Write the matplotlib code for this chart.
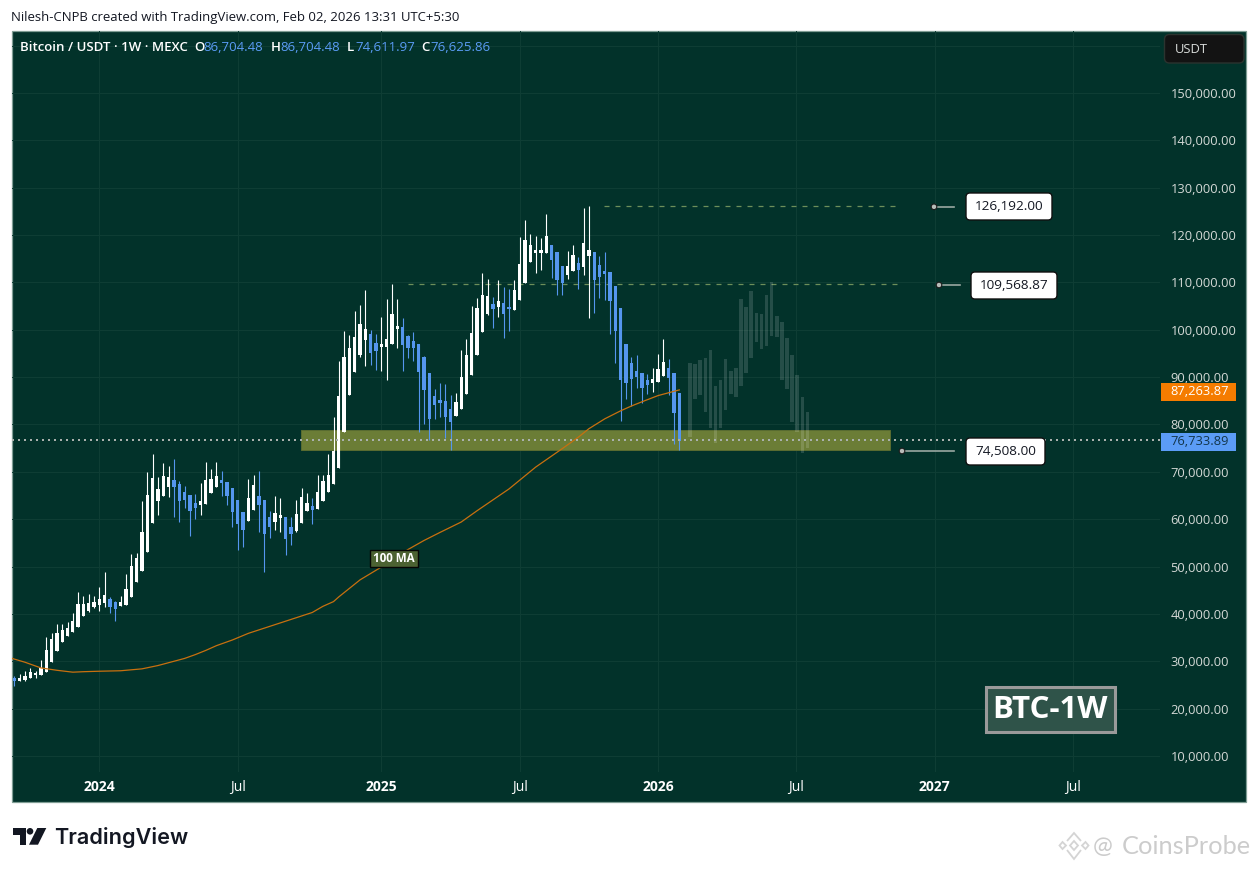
import matplotlib
matplotlib.use("Agg")
import matplotlib.pyplot as plt
from matplotlib.patches import FancyBboxPatch, Rectangle, Polygon, Circle
from matplotlib.lines import Line2D
from matplotlib.transforms import Affine2D

# ---- weekly candles, prices in thousands of USDT ----
opens = [26.2,25.9,26.0,26.5,27.1,27.1,27.7,29.8,32.2,34.1,35.3,36.2,37.3,39.6,40.6,41.5,41.9,42.3,43.2,42.5,
         41.7,41.9,43.6,46.8,49.1,53.1,59.1,63.9,65.0,66.9,68.2,67.5,65.8,65.2,63.5,62.9,63.3,65.6,66.9,68.2,
         67.9,66.5,64.1,61.6,59.7,62.0,64.8,64.1,60.5,59.5,60.3,60.5,58.4,57.6,59.3,61.8,62.7,62.2,63.9,65.8,
         67.5,70.9,78.4,86.2,91.1,94.7,97.8,99.1,97.2,96.4,96.4,97.0,100.2,100.6,98.7,97.6,97.0,94.2,90.9,86.0,
         85.1,84.9,83.2,81.8,83.2,86.4,90.4,94.7,99.5,103.3,105.5,104.8,105.7,104.6,104.2,106.3,109.9,114.4,116.3,116.3,
         116.3,118.0,116.5,113.5,111.6,112.5,114.1,113.3,115.6,116.5,113.7,112.5,112.2,109.3,104.6,97.0,93.0,91.3,90.9,89.4,
         88.7,89.0,90.2,91.9,90.9,86.7]
highs = [26.9,27.3,27.9,28.5,27.9,30.3,35.1,36.0,37.9,37.9,38.3,40.2,44.6,43.8,44.2,43.8,45.7,48.9,43.6,42.8,
         43.8,48.5,52.7,52.9,63.9,69.9,73.7,69.0,71.8,71.3,72.8,68.0,67.1,65.2,65.4,67.7,72.0,70.7,72.0,70.1,
         67.9,66.5,64.1,61.6,68.4,69.4,70.1,64.1,61.8,65.0,64.4,60.5,60.5,64.1,66.5,65.6,64.4,69.4,69.4,73.7,
         81.5,93.3,99.8,98.9,104.0,105.3,108.4,100.0,99.1,102.7,106.5,109.7,106.5,102.5,98.9,99.5,97.0,94.5,90.9,87.5,
         88.7,88.5,86.2,86.6,95.7,98.1,105.0,106.7,112.0,110.8,106.9,110.5,109.1,108.6,110.5,119.6,123.2,120.3,119.9,119.4,
         124.5,118.0,116.5,113.5,116.7,118.0,115.4,125.8,126.2,116.5,115.6,116.5,112.2,109.3,104.6,97.0,94.2,94.7,90.9,90.6,
         91.9,94.9,98.1,93.8,90.9,86.7]
lows = [24.8,25.9,25.9,26.5,26.5,27.1,27.7,29.8,32.2,34.1,35.3,36.2,37.3,39.6,40.4,41.3,40.6,41.5,40.2,38.5,
        41.7,41.9,43.6,46.8,49.1,53.1,59.1,60.8,65.0,64.6,60.5,59.5,62.4,56.5,60.1,60.8,63.3,65.6,66.9,65.0,
        63.1,58.4,53.6,54.2,59.7,62.0,57.2,48.9,56.1,57.8,57.2,52.5,54.6,57.4,59.3,61.8,58.9,62.2,63.9,65.8,
        67.5,70.9,78.4,86.2,91.1,94.2,92.3,92.6,91.5,91.3,89.4,97.0,96.2,91.3,94.0,93.4,78.4,80.1,76.7,81.1,
        81.5,77.1,74.6,81.8,83.2,86.4,90.4,94.7,99.5,103.1,100.4,102.7,98.3,99.8,104.2,106.3,109.9,114.4,112.0,112.7,
        116.3,111.0,107.4,107.4,110.8,112.5,108.6,111.6,102.5,103.6,106.7,106.3,99.1,93.0,80.7,85.3,83.9,87.7,84.5,86.4,
        86.8,89.0,90.2,86.2,75.8,74.6]
closes = [25.9,26.5,26.9,27.7,27.3,28.6,32.4,34.7,36.0,36.6,37.0,38.5,42.1,42.1,42.3,42.5,43.2,44.0,41.5,41.1,
          42.5,45.3,50.2,51.9,57.4,65.2,68.8,66.3,69.2,69.0,66.9,63.9,64.1,61.8,62.4,63.9,68.2,68.4,69.2,67.7,
          64.8,61.6,58.9,57.8,64.4,67.3,63.1,56.9,58.4,61.4,60.8,55.9,56.9,61.0,64.6,63.5,62.0,65.8,68.0,69.4,
          74.3,86.0,94.2,96.2,98.5,101.2,100.2,95.1,95.5,96.8,98.1,103.3,100.8,96.8,96.2,96.2,91.1,87.3,81.1,84.1,
          84.5,81.5,80.5,84.7,90.0,94.7,99.3,104.6,107.4,107.2,104.4,106.1,103.3,104.4,108.4,113.9,119.0,118.0,116.5,116.5,
          119.7,114.8,110.5,109.9,113.5,115.8,112.7,118.4,116.9,110.5,111.2,111.8,106.1,99.8,89.4,88.7,89.6,90.0,87.7,88.3,
          89.6,91.7,93.2,89.8,82.4,76.6]

# ---- 100 week moving average: (week index, value) ----
ma_weeks = [-1,2,5,8,11,13,16,20,24,27,30,32,34,36,38,41,44,47,50,53,56,58,60,61,65,69,74,77,80,84,87,93,98,103,106,108,111,114,116,118,121,125]
ma_values = [30.8,29.8,28.6,28.1,27.7,27.8,27.9,28.0,28.4,29.1,30.0,30.6,31.4,32.3,33.3,34.5,35.9,37.0,38.1,39.2,40.3,41.6,42.6,43.6,47.2,49.9,53.6,55.5,57.2,59.4,61.8,
             66.4,71.0,74.9,77.3,79.1,81.2,82.9,83.9,84.8,86.1,87.3]

# ---- faded projection bars ----
ghost_tops = [92.97,92.76,93.6,94.03,95.72,88.1,89.37,93.82,91.28,91.91,106.52,104.83,108.2,103.56,103.35,107.37,
              110.12,102.92,101.65,98.27,94.67,90.43,85.8,82.6]
ghost_bottoms = [77.31,85.35,86.2,82.6,79.21,76.03,79.21,83.02,86.41,85.8,88.1,90.85,94.03,97.42,95.94,96.57,
                 98.69,98.48,89.37,87.47,80.48,78.5,73.9,74.98]

# ---- levels and labels ----
price_ticks = [10,20,30,40,50,60,70,80,90,100,110,120,130,140,150]
time_ticks = [16,42,69,95,121,147,173,199]
time_labels = ["2024","Jul","2025","Jul","2026","Jul","2027","Jul"]
high_level = 126.192
mid_level = 109.56887
low_level = 74.508
last_price = 76.73389
ma_last = 87.26387
zone_low, zone_high = 74.7, 78.8

BG = "#02322a"; GRID = "#0e3d34"; BLUE = "#5596ee"; TXT = "#d4d9d6"; ORANGE = "#c8700f"
FONT = "Open Sans"
W, H = 1258, 871
fig = plt.figure(figsize=(W/100, H/100), dpi=100, facecolor="white")
px = Affine2D().scale(1, -1).translate(0, H)

AX_L, AX_R, AX_T, AX_B = 12, 1160, 31, 772
ax = fig.add_axes([AX_L/W, 1-AX_B/H, (AX_R-AX_L)/W, (AX_B-AX_T)/H])
ax.patch.set_alpha(0)
SP = 5.32; X0 = 14.3
ax.set_xlim((AX_L-X0)/SP, (AX_R-X0)/SP)
S = 10/47.36
ax.set_ylim(10-(AX_B-756)*S, 10+(756-AX_T)*S)
for s in ax.spines.values():
    s.set_visible(False)

# pane background
fig.add_artist(Rectangle((11.5, 30.5), 1234, 771.5, transform=px, fc=BG, ec="#7f9d94", lw=0.9, zorder=-5))

ax.set_yticks(price_ticks)
ax.set_yticklabels([f"{v*1000:,.2f}" for v in price_ticks], fontfamily=FONT, fontsize=9.25, color=TXT)
ax.yaxis.tick_right()
ax.tick_params(axis="y", length=0, pad=7.5)
ax.set_xticks(time_ticks)
ax.set_xticklabels(time_labels, fontfamily=FONT, fontsize=10, color="#ffffff")
ax.tick_params(axis="x", length=0, pad=6)
for lab, t in zip(ax.get_xticklabels(), time_labels):
    if t != "Jul":
        lab.set_fontweight("bold")
ax.grid(True, color=GRID, lw=0.72, zorder=0)
ax.axhline(160, color=GRID, lw=0.72, zorder=0)
ax.set_axisbelow(True)

# zone
ax.add_patch(Rectangle((53.9, zone_low), 164.6-53.9, zone_high-zone_low, fc="#6b7d36", ec="#5a6c30", lw=0.7, zorder=1))

# dashed levels
ax.plot([110.8, 165.6], [high_level]*2, color="#6d8f5a", lw=0.9, ls=(0, (4, 4.8)), zorder=1.5)
ax.plot([74.0, 165.9], [mid_level]*2, color="#6d8f5a", lw=0.9, ls=(0, (4, 4.8)), zorder=1.5)

# candles
idx = list(range(len(opens)))
cols = ["#ffffff" if c >= o else BLUE for o, c in zip(opens, closes)]
ax.vlines(idx, lows, highs, colors=cols, lw=0.8, zorder=3)
ax.bar(idx, [max(abs(c-o), 0.5) for o, c in zip(opens, closes)], bottom=[min(o, c) for o, c in zip(opens, closes)],
       width=0.62, color=cols, linewidth=0, antialiased=False, zorder=3.1)

# MA
ax.plot(ma_weeks, ma_values, color=ORANGE, lw=0.9, zorder=3.5, solid_joinstyle="round")

# ghost projection
gx = [127 + 0.96*k for k in range(len(ghost_tops))]
ax.bar(gx, [t-b for t, b in zip(ghost_tops, ghost_bottoms)], bottom=ghost_bottoms, width=0.66,
       color="#ffffff", alpha=0.14, linewidth=0, zorder=4)

# last price line
ax.axhline(last_price, color="#aab1ad", lw=1.44, ls=(0, (1, 2)), zorder=5)

def T(x, y, s, **kw):
    kw.setdefault("family", FONT)
    kw.setdefault("va", "center")
    kw.setdefault("zorder", 10)
    return fig.text(x, y, s, transform=px, **kw)

def box(x0, y0, x1, y1, fc, ec, lw=1.0, r=4, z=8):
    fig.add_artist(FancyBboxPatch((x0, y0), x1-x0, y1-y0, boxstyle=f"round,pad=0,rounding_size={r}",
                                  transform=px, fc=fc, ec=ec, lw=lw, zorder=z))

# callouts
for (mx, my, lx, bx0, bx1, by0, by1, s) in [
    (934, 206.8, 954, 966, 1052, 193, 220, "126,192.00"),
    (939, 285, 960, 971, 1057, 272, 299, "109,568.87"),
    (902, 451, 954, 966, 1045, 438, 465, "74,508.00"),
]:
    fig.add_artist(Line2D([mx, lx], [my, my], transform=px, color="#9aa8a2", lw=1.2, zorder=7))
    fig.add_artist(Circle((mx, my), 2.8, transform=px, fc="#b8bdb9", ec="#1b1b1b", lw=0.8, zorder=7.5))
    box(bx0, by0, bx1, by1, "#ffffff", "#101010")
    T((bx0+bx1)/2, (by0+by1)/2, s, color="#131722", fontsize=9.7, ha="center")

# price tags
fig.add_artist(Rectangle((1161, 382.5), 75, 18.5, transform=px, fc="#f57c00", ec="none", zorder=8))
T(1170, 391, "87,263.87", color="#ffffff", fontsize=9.25)
fig.add_artist(Rectangle((1161, 432.5), 75, 18.5, transform=px, fc="#5b9cf6", ec="none", zorder=8))
T(1170, 441, "76,733.89", color="#12354a", fontsize=9.25)

# USDT button
box(1164.5, 34.5, 1244, 63, "#131313", "#2b332f", r=5)
T(1175, 49, "USDT", color="#d8dbd9", fontsize=9.4)

# MA tag
fig.add_artist(Rectangle((369.5, 549.5), 48, 17, transform=px, fc="#4c6232", ec="#050505", lw=1.0, zorder=8))
T(393.5, 558, "100 MA", color="#ffffff", fontsize=8.4, fontweight="bold", ha="center")

# header
T(11, 17, "Nilesh-CNPB created with TradingView.com, Feb 02, 2026 13:31 UTC+5:30", color="#131722", fontsize=9.45)
T(20, 47, "Bitcoin / USDT · 1W · MEXC", color="#ffffff", fontsize=9.5, fontweight="semibold")
for lx, ch, vx, val in [(194, "O", 203, "86,704.48"), (271, "H", 280, "86,704.48"),
                        (347, "L", 355, "74,611.97"), (421, "C", 430, "76,625.86")]:
    T(lx, 47, ch, color="#ffffff", fontsize=9.5, fontweight="semibold")
    T(vx, 47, val, color="#5b9cf6", fontsize=9.5)

# BTC-1W stamp
fig.add_artist(Rectangle((985.5, 686.5), 129, 45, transform=px, fc="#2f5349", ec="#9a9a9a", lw=2.2, zorder=8))
T(1050, 709.5, "BTC-1W", color="#ffffff", fontsize=22.5, fontweight="bold", ha="center")

# TradingView logo
LOGO = "#131722"
fig.add_artist(Polygon([(13.3, 828), (26.3, 828), (26.3, 844.7), (19.7, 844.7), (19.7, 834.5), (13.3, 834.5)], transform=px, fc=LOGO, ec="none", zorder=8))
fig.add_artist(Circle((30, 831.3), 3.3, transform=px, fc=LOGO, ec="none", zorder=8))
fig.add_artist(Polygon([(37.3, 828), (46.3, 828), (38, 844.7), (29, 844.7)], transform=px, fc=LOGO, ec="none", zorder=8))
T(54.5, 837, "TradingView", color=LOGO, fontsize=15.6, fontweight="semibold", family="Inter")

# watermark
WM = "#cccccc"
for pts, closed in [([(1067, 841), (1074, 833), (1081, 841)], False),
                    ([(1067, 850), (1074, 859), (1081, 850)], False),
                    ([(1074, 841), (1078, 845.5), (1074, 850), (1070, 845.5)], True),
                    ([(1062.5, 842), (1066, 845.5), (1062.5, 849), (1059.5, 845.5)], True),
                    ([(1085.5, 842), (1088.5, 845.5), (1085.5, 849), (1082, 845.5)], True)]:
    fig.add_artist(Polygon(pts, closed=closed, transform=px, fc="none", ec="#d4d4d4", lw=1.3, zorder=8))
T(1093, 846, "@", color=WM, fontsize=17, family="Lato")
T(1122, 846, "CoinsProbe", color=WM, fontsize=18.3, family="Lato")

fig.savefig("out.png", dpi=100, facecolor="white")
